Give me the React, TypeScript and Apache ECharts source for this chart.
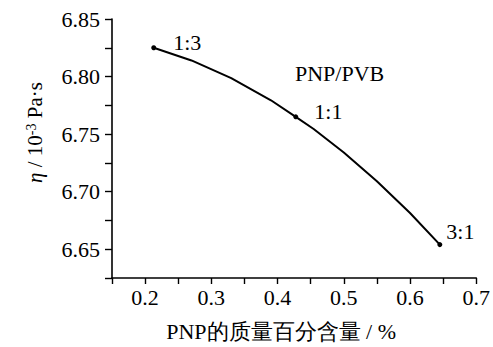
import React, { useEffect, useRef } from "react";
import * as echarts from "echarts";

// Marked sample points (PNP mass fraction, viscosity)
const sampleX = [0.213, 0.4275, 0.645];
const sampleY = [6.825, 6.765, 6.654];
const sampleRatios = ["1:3", "1:1", "3:1"];

// Points
const curveX = [0.213, 0.27, 0.33, 0.39, 0.4275, 0.4545, 0.5, 0.55, 0.6, 0.645];
const curveY = [6.825, 6.814, 6.7987, 6.7794, 6.765, 6.7544, 6.734, 6.709, 6.6815, 6.654];

const xTickLabels = ["0.2", "0.3", "0.4", "0.5", "0.6", "0.7"];
const yTickLabels = ["6.65", "6.70", "6.75", "6.80", "6.85"];
const legendText = "PNP/PVB";

const FONT = "Times New Roman, Liberation Serif, DejaVu Serif, serif";

export default function App() {
  const ref = useRef<HTMLDivElement>(null);
  useEffect(() => {
    if (!ref.current) return;
    const chart = echarts.init(ref.current, null, { renderer: "svg" });
    const offsets: Record<string, { distance: number; offset: number[] }> = {
      "1:3": { distance: 17, offset: [0, -5] },
      "1:1": { distance: 16, offset: [0, -5] },
      "3:1": { distance: 4, offset: [0, -13] },
    };
    const fmtX = (v: number) => {
      const s = v.toFixed(1);
      return Math.abs(v * 10 - Math.round(v * 10)) < 1e-6 && xTickLabels.includes(s) ? s : "";
    };
    const fmtY = (v: number) => {
      const s = v.toFixed(2);
      return Math.abs(v * 20 - Math.round(v * 20)) < 1e-6 && yTickLabels.includes(s) ? s : "";
    };
    chart.setOption({
      animation: false,
      backgroundColor: "#fff",
      textStyle: { fontFamily: FONT, color: "#000" },
      grid: { left: 112, right: 14, top: 19, bottom: 64, containLabel: false },
      xAxis: {
        type: "value",
        min: 0.15,
        max: 0.7,
        interval: 0.05,
        name: "PNP的质量百分含量 / %",
        nameLocation: "middle",
        nameGap: 42,
        nameTextStyle: { fontFamily: FONT, fontSize: 22, color: "#000", padding: [0, 26, 0, 0] },
        axisLine: { show: true, onZero: false, lineStyle: { color: "#000", width: 1.6 } },
        axisTick: { show: true, inside: false, length: 6, lineStyle: { color: "#000", width: 1.4 } },
        axisLabel: { formatter: fmtX, fontFamily: FONT, fontSize: 22, color: "#000", margin: 8, showMinLabel: true, showMaxLabel: true },
        splitLine: { show: false },
      },
      yAxis: {
        type: "value",
        min: 6.625,
        max: 6.85,
        interval: 0.025,
        name: "{i|η} / 10{sup|-3} Pa·s",
        nameLocation: "middle",
        nameRotate: 90,
        nameGap: 66,
        nameTextStyle: {
          fontFamily: FONT,
          fontSize: 21,
          color: "#000",
          padding: [0, 0, 0, 32],
          rich: {
            i: { fontFamily: FONT, fontSize: 21, fontStyle: "italic", color: "#000" },
            sup: { fontFamily: FONT, fontSize: 14, color: "#000", verticalAlign: "top", padding: [0, 0, 8, 0] },
          },
        },
        axisLine: { show: true, onZero: false, lineStyle: { color: "#000", width: 1.6 } },
        axisTick: { show: true, inside: false, length: 7, lineStyle: { color: "#000", width: 1.4 } },
        axisLabel: { formatter: fmtY, fontFamily: FONT, fontSize: 22, color: "#000", margin: 12, showMinLabel: true, showMaxLabel: true },
        splitLine: { show: false },
      },
      graphic: [
        {
          type: "text",
          left: 295,
          top: 62,
          style: { text: legendText, fontFamily: FONT, fontSize: 22, fill: "#000" },
        },
      ],
      series: [
        {
          type: "line",
          data: curveX.map((x, i) => [x, curveY[i]]),
          smooth: false,
          showSymbol: false,
          lineStyle: { color: "#000", width: 2 },
          z: 2,
        },
        {
          type: "scatter",
          symbol: "circle",
          symbolSize: 5,
          itemStyle: { color: "#000", opacity: 1 },
          z: 3,
          data: sampleX.map((x, i) => ({
            value: [x, sampleY[i]],
            name: sampleRatios[i],
            label: {
              show: true,
              position: "right",
              distance: offsets[sampleRatios[i]].distance,
              offset: offsets[sampleRatios[i]].offset,
              formatter: sampleRatios[i],
              fontFamily: FONT,
              fontSize: 22,
              color: "#000",
              opacity: 1,
            },
          })),
        },
      ],
    });
    return () => chart.dispose();
  }, []);
  return (
    <div
      ref={ref}
      style={{ position: "fixed", left: 0, top: 0, width: 493, height: 347, background: "#fff" }}
    />
  );
}
